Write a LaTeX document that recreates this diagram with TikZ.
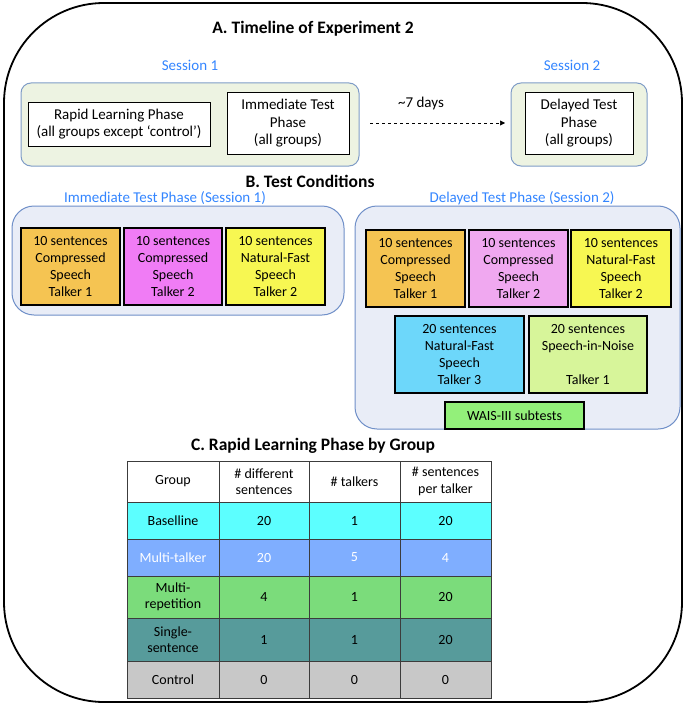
\documentclass[tikz,border=0pt]{standalone}
\usepackage{fontspec}
\setmainfont{Carlito}
\usetikzlibrary{arrows.meta}
\definecolor{seslbl}{RGB}{51,133,255}
\definecolor{sesfill}{RGB}{237,243,226}
\definecolor{sesdraw}{RGB}{127,156,199}
\definecolor{panfill}{RGB}{233,237,247}
\definecolor{pandraw}{RGB}{111,143,200}
\definecolor{corange}{RGB}{245,196,82}
\definecolor{cmagenta}{RGB}{240,124,245}
\definecolor{cpink}{RGB}{240,168,240}
\definecolor{cyellow}{RGB}{247,247,82}
\definecolor{ccyan}{RGB}{109,215,250}
\definecolor{clime}{RGB}{215,245,154}
\definecolor{cwais}{RGB}{147,240,122}
\definecolor{tbase}{RGB}{92,255,255}
\definecolor{tmulti}{RGB}{127,174,255}
\definecolor{trep}{RGB}{123,220,123}
\definecolor{tsingle}{RGB}{87,155,155}
\definecolor{tctrl}{RGB}{200,200,200}
\definecolor{tgrid}{RGB}{60,60,60}
\tikzset{
  tl/.style={font=\fontsize{15}{17.5}\selectfont, align=center, inner sep=0pt},
  ttl/.style={font=\fontsize{17.5}{20}\bfseries\selectfont, inner sep=0pt},
  slbl/.style={font=\fontsize{15}{17.5}\selectfont, text=seslbl, inner sep=0pt},
  sesbox/.style={draw=sesdraw, fill=sesfill, line width=1pt, rounded corners=10pt},
  panbox/.style={draw=pandraw, fill=panfill, line width=1pt, rounded corners=22pt},
  phbox/.style={draw=black, fill=white, line width=0.8pt, tl},
  cond/.style={draw=black, line width=2.2pt, font=\fontsize{14}{16.7}\selectfont, align=center, inner sep=0pt},
  cell/.style={draw=tgrid, line width=0.9pt, font=\fontsize{14}{16.5}\selectfont, align=center, inner sep=0pt}
}
\begin{document}
\begin{tikzpicture}[x=1pt,y=-1pt]
\useasboundingbox (0,0) rectangle (685,706);
% outer frame
\draw[line width=1.8pt, rounded corners=100pt] (4,3) rectangle (682,702);
% A. timeline
\node[ttl] (ta) at (313,29) {A. Timeline of Experiment 2};
\node[slbl] (s1) at (190,65) {Session 1};
\node[slbl] (s2) at (572,65) {Session 2};
\draw[sesbox] (21,83) rectangle (359,166);
\draw[sesbox] (511,83) rectangle (647,166);
\node[phbox, minimum width=182pt, minimum height=44pt] (rapid) at (119,124) {Rapid Learning Phase\\(all groups except ‘control’)};
\node[phbox, minimum width=122pt, minimum height=62pt] (imm) at (288,123.5) {Immediate Test\\Phase\\(all groups)};
\node[phbox, minimum width=108pt, minimum height=62pt] (del) at (579,123.5) {Delayed Test\\Phase\\(all groups)};
\node[tl] (days) at (421,104) {\textasciitilde7 days};
\coordinate (arrs) at (370,123);
\coordinate (arre) at (505,123);
\draw[dashed, line width=0.6pt, -{Triangle[length=5pt,width=5pt]}] (arrs) -- (arre);
% B. test conditions
\node[ttl] (tb) at (310,181) {B. Test Conditions};
\node[slbl] (p1) at (165,198) {Immediate Test Phase (Session 1)};
\node[slbl] (p2) at (522,198) {Delayed Test Phase (Session 2)};
\draw[panbox] (12,206) rectangle (344,315);
\draw[panbox] (355,206) rectangle (680,429);
\node[cond, fill=corange, minimum width=99pt, minimum height=77pt] (a1) at (70.5,266.5) {10 sentences\\Compressed\\Speech\\Talker 1};
\node[cond, fill=cmagenta, minimum width=98pt, minimum height=77pt] (a2) at (173,266.5) {10 sentences\\Compressed\\Speech\\Talker 2};
\node[cond, fill=cyellow, minimum width=99pt, minimum height=77pt] (a3) at (275.5,266.5) {10 sentences\\Natural-Fast\\Speech\\Talker 2};
\node[cond, fill=corange, minimum width=99pt, minimum height=77pt] (b1) at (415.5,268.5) {10 sentences\\Compressed\\Speech\\Talker 1};
\node[cond, fill=cpink, minimum width=99pt, minimum height=77pt] (b2) at (518.5,268.5) {10 sentences\\Compressed\\Speech\\Talker 2};
\node[cond, fill=cyellow, minimum width=100pt, minimum height=77pt] (b3) at (621,268.5) {10 sentences\\Natural-Fast\\Speech\\Talker 2};
\node[cond, fill=ccyan, minimum width=129pt, minimum height=77pt] (b4) at (459.5,354.5) {20 sentences\\Natural-Fast\\Speech\\Talker 3};
\node[cond, fill=clime, minimum width=118pt, minimum height=77pt] (b5) at (588,354.5) {20 sentences\\Speech-in-Noise\\\strut\\Talker 1};
\node[cond, fill=cwais, minimum width=139pt, minimum height=27pt] (wais) at (514.5,415.5) {WAIS-III subtests};
% C. table
\node[ttl] (tc) at (313,446) {C. Rapid Learning Phase by Group};
% header
\node[cell, fill=white, minimum width=92pt, minimum height=41pt] (h1) at (173,481.5) {Group};
\node[cell, fill=white, minimum width=90pt, minimum height=41pt] (h2) at (264,481.5) {\# different\\sentences};
\node[cell, fill=white, minimum width=91pt, minimum height=41pt] (h3) at (354.5,481.5) {\# talkers};
\node[cell, fill=white, minimum width=91pt, minimum height=41pt] (h4) at (445.5,481.5) {\# sentences\\per talker};
% baseline
\node[cell, fill=tbase, minimum width=92pt, minimum height=37pt] (r1c1) at (173,520.5) {Baselline};
\node[cell, fill=tbase, minimum width=90pt, minimum height=37pt] (r1c2) at (264,520.5) {20};
\node[cell, fill=tbase, minimum width=91pt, minimum height=37pt] (r1c3) at (354.5,520.5) {1};
\node[cell, fill=tbase, minimum width=91pt, minimum height=37pt] (r1c4) at (445.5,520.5) {20};
% multi-talker
\node[cell, fill=tmulti, text=white, minimum width=92pt, minimum height=37pt] (r2c1) at (173,557.5) {Multi-talker};
\node[cell, fill=tmulti, text=white, minimum width=90pt, minimum height=37pt] (r2c2) at (264,557.5) {20};
\node[cell, fill=tmulti, text=white, minimum width=91pt, minimum height=37pt] (r2c3) at (354.5,557.5) {5};
\node[cell, fill=tmulti, text=white, minimum width=91pt, minimum height=37pt] (r2c4) at (445.5,557.5) {4};
% multi-repetition
\node[cell, fill=trep, minimum width=92pt, minimum height=42pt] (r3c1) at (173,597) {Multi-\\repetition};
\node[cell, fill=trep, minimum width=90pt, minimum height=42pt] (r3c2) at (264,597) {4};
\node[cell, fill=trep, minimum width=91pt, minimum height=42pt] (r3c3) at (354.5,597) {1};
\node[cell, fill=trep, minimum width=91pt, minimum height=42pt] (r3c4) at (445.5,597) {20};
% single-sentence
\node[cell, fill=tsingle, minimum width=92pt, minimum height=43pt] (r4c1) at (173,639.5) {Single-\\sentence};
\node[cell, fill=tsingle, minimum width=90pt, minimum height=43pt] (r4c2) at (264,639.5) {1};
\node[cell, fill=tsingle, minimum width=91pt, minimum height=43pt] (r4c3) at (354.5,639.5) {1};
\node[cell, fill=tsingle, minimum width=91pt, minimum height=43pt] (r4c4) at (445.5,639.5) {20};
% control
\node[cell, fill=tctrl, minimum width=92pt, minimum height=37pt] (r5c1) at (173,679.5) {Control};
\node[cell, fill=tctrl, minimum width=90pt, minimum height=37pt] (r5c2) at (264,679.5) {0};
\node[cell, fill=tctrl, minimum width=91pt, minimum height=37pt] (r5c3) at (354.5,679.5) {0};
\node[cell, fill=tctrl, minimum width=91pt, minimum height=37pt] (r5c4) at (445.5,679.5) {0};
\end{tikzpicture}
\end{document}
